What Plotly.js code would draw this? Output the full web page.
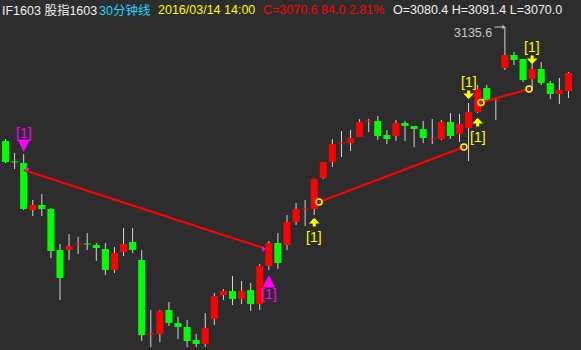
<!DOCTYPE html>
<html>
<head>
<meta charset="utf-8">
<script src="https://cdn.plot.ly/plotly-3.0.1.min.js"></script>
<style>
html,body{margin:0;padding:0;background:#2d2d2d;}
#chart{width:581px;height:350px;}
</style>
</head>
<body>
<div id="chart"></div>
<script>
// ---- OHLC data (30-minute bars, IF1603) ----
const openP = [
 3033.0, 3014.3, 3013.2, 2970.9, 2975.4, 2971.8, 2934.9, 2934.9, 2940.0, 2940.5,
 2939.4, 2935.8, 2916.9, 2933.1, 2942.1, 2925.9, 2859.1, 2859.3, 2880.9, 2869.2,
 2865.6, 2853.9, 2850.3, 2872.8, 2894.4, 2898.0, 2890.8, 2898.9, 2886.3, 2920.5,
 2941.2, 2939.4, 2960.1, 2971.6, 2971.8, 2999.7, 3014.1, 3031.0, 3031.2, 3036.6,
 3050.8, 3051.0, 3038.4, 3037.5, 3049.2, 3046.5, 3043.8, 3034.6, 3034.8, 3050.1,
 3039.3, 3044.7, 3059.1, 3080.7, 3069.8, 3098.7, 3110.4, 3106.8, 3088.8, 3097.8,
 3085.2, 3075.3, 3078.0];
const highP = [
 3034.8, 3022.2, 3021.3, 2979.9, 2985.3, 2972.7, 2940.3, 2949.3, 2946.6, 2950.2,
 2941.2, 2941.2, 2937.6, 2954.7, 2954.7, 2934.9, 2880.9, 2880.9, 2888.1, 2874.6,
 2871.9, 2859.3, 2878.2, 2896.2, 2899.8, 2911.5, 2907.0, 2905.2, 2922.3, 2943.0,
 2950.2, 2966.4, 2977.2, 2979.9, 2999.0, 3014.1, 3034.8, 3042.0, 3042.9, 3052.8,
 3052.8, 3055.5, 3042.9, 3051.9, 3051.0, 3046.5, 3051.0, 3052.8, 3051.9, 3058.2,
 3057.3, 3067.2, 3083.4, 3083.4, 3071.7, 3135.6, 3113.1, 3106.8, 3103.2, 3104.1,
 3087.0, 3089.7, 3095.1];
const lowP = [
 3013.2, 3007.8, 2970.9, 2965.5, 2965.5, 2927.7, 2889.9, 2925.9, 2931.3, 2934.9,
 2925.0, 2912.4, 2914.2, 2929.5, 2932.2, 2853.0, 2847.6, 2852.1, 2866.5, 2854.8,
 2847.6, 2847.6, 2847.6, 2867.4, 2889.9, 2885.4, 2886.3, 2880.0, 2880.9, 2916.9,
 2917.8, 2934.9, 2957.4, 2956.5, 2966.4, 2998.8, 3009.6, 3018.6, 3024.0, 3036.6,
 3041.1, 3033.9, 3030.3, 3033.0, 3033.0, 3027.6, 3031.2, 3030.3, 3033.9, 3034.8,
 3032.1, 3015.0, 3058.2, 3069.0, 3051.9, 3096.9, 3101.4, 3086.1, 3078.9, 3083.4,
 3070.8, 3066.3, 3071.7];
const closeP = [
 3014.1, 3014.1, 2971.8, 2975.4, 2971.8, 2934.0, 2909.7, 2938.5, 2940.3, 2940.1,
 2936.7, 2916.9, 2932.2, 2940.3, 2934.9, 2858.4, 2859.4, 2880.0, 2869.2, 2865.6,
 2853.0, 2850.3, 2864.7, 2893.5, 2898.0, 2890.8, 2898.0, 2886.3, 2920.5, 2941.2,
 2923.2, 2960.1, 2971.8, 2971.9, 2998.8, 3014.1, 3030.3, 3031.2, 3035.7, 3050.1,
 3051.0, 3037.5, 3034.8, 3049.2, 3046.5, 3043.8, 3035.7, 3034.8, 3050.1, 3037.5,
 3048.3, 3059.1, 3079.8, 3069.9, 3070.0, 3110.4, 3105.9, 3087.9, 3097.8, 3085.2,
 3075.3, 3078.9, 3094.2];

// ---- signal lines and markers ----
const lineA_x = [2, 28.4],        lineA_y = [3006.9, 2936.7];
const lineB_x = [34.53, 50.49],   lineB_y = [2978.1, 3027.6];
const lineC_x = [52.37, 57.66],   lineC_y = [3067.7, 3079.8];
const circle_x = [34.53, 50.49, 52.37, 57.66];
const circle_y = [2978.1, 3027.6, 3067.7, 3079.8];
const pointer_x = [2.4, 28.4];
const pointer_y = [3007.8, 2935.8];
const magDown_x = [2],  magDown_y = [3023.1];
const magUp_x = [29],   magUp_y = [2912.4];
const yelUp_x = [34, 52],   yelUp_y = [2963.7, 3053.7];
const yelDown_x = [51, 58], yelDown_y = [3070.8, 3102.3];
const signalLabel = "[1]";
const maxIdx = 55, maxLabel = "3135.6";

// header
const hdrName = "IF1603 股指1603";
const hdrPeriod = "30分钟线";
const hdrTime = "2016/03/14 14:00";
const hdrClose = "C=3070.6 84.0 2.81%";
const hdrOHL = "O=3080.4 H=3091.4 L=3070.0";

// ---- build traces ----
const n = openP.length;
const xs = openP.map((_, i) => i);
const minBody = 0.9;
const upX = [], upBase = [], upH = [], dnX = [], dnBase = [], dnH = [];
for (let i = 0; i < n; i++) {
  const o = openP[i], c = closeP[i];
  let lo = Math.min(o, c), h = Math.abs(c - o);
  if (h < minBody) { lo = lo - (minBody - h) / 2; h = minBody; }
  if (c >= o) { upX.push(i); upBase.push(lo); upH.push(h); }
  else { dnX.push(i); dnBase.push(lo); dnH.push(h); }
}
const RED = '#ff0000', GREEN = '#00ff00', MAG = '#ff00ff', YEL = '#ffff00';

const traces = [
  { type: 'bar', x: xs, base: lowP, y: highP.map((h, i) => h - lowP[i]), width: 0.11,
    marker: { color: '#d4d4d4', line: { width: 0 } }, hoverinfo: 'skip' },
  { type: 'bar', x: upX, base: upBase, y: upH, width: 0.78,
    marker: { color: RED, line: { width: 0 } }, hoverinfo: 'skip' },
  { type: 'bar', x: dnX, base: dnBase, y: dnH, width: 0.78,
    marker: { color: GREEN, line: { width: 0 } }, hoverinfo: 'skip' },
  { type: 'scatter', mode: 'lines', x: lineA_x, y: lineA_y, line: { color: RED, width: 2 }, hoverinfo: 'skip' },
  { type: 'scatter', mode: 'lines', x: lineB_x, y: lineB_y, line: { color: RED, width: 2 }, hoverinfo: 'skip' },
  { type: 'scatter', mode: 'lines', x: lineC_x, y: lineC_y, line: { color: RED, width: 2 }, hoverinfo: 'skip' },
  { type: 'scatter', mode: 'markers', x: circle_x, y: circle_y,
    marker: { symbol: 'circle-open', size: 6, color: YEL, line: { width: 1.5, color: YEL } }, hoverinfo: 'skip' },
  { type: 'scatter', mode: 'markers', x: pointer_x, y: pointer_y,
    marker: { symbol: 'triangle-right', size: 5, color: MAG }, hoverinfo: 'skip' }
];

const font = "Liberation Sans, Arial, Noto Sans CJK SC, sans-serif";
const ann = [];
function sig(xv, yv, color, up, len, head, aw, asz, gap) {
  // arrow only
  ann.push({ x: xv, y: yv, xref: 'x', yref: 'y', text: '', showarrow: true,
    arrowhead: head, arrowsize: asz, arrowwidth: aw, arrowcolor: color, standoff: 0,
    ax: 0, ay: up ? len : -len });
  // label
  ann.push({ x: xv, y: yv, xref: 'x', yref: 'y', text: signalLabel, showarrow: false,
    xanchor: 'center', yanchor: 'middle', yshift: up ? -gap : gap,
    font: { family: font, size: 14, color: color } });
}
magDown_x.forEach((v, i) => sig(v, magDown_y[i], MAG, false, 13, 2, 2.5, 1.0, 19));
magUp_x.forEach((v, i) => sig(v, magUp_y[i], MAG, true, 13, 2, 2.5, 1.0, 19));
yelDown_x.forEach((v, i) => sig(v, yelDown_y[i], YEL, false, 10, 1, 3, 0.6, 17.5));
yelUp_x.forEach((v, i) => sig(v, yelUp_y[i], YEL, true, 10, 1, 3, 0.6, 18.5));

// max label
ann.push({ x: maxIdx, y: highP[maxIdx], xref: 'x', yref: 'y', text: '', showarrow: true,
  arrowhead: 1, arrowsize: 0.8, arrowwidth: 1, arrowcolor: '#c8c8c8', standoff: 0, ax: -12, ay: 0 });
ann.push({ x: maxIdx, y: highP[maxIdx], xref: 'x', yref: 'y', text: maxLabel, showarrow: false,
  xanchor: 'right', yanchor: 'middle', xshift: -11, yshift: -6,
  font: { family: font, size: 12.5, color: '#c8c8c8' } });

// header
function hdr(px, txt, color) {
  ann.push({ x: px / 581, y: 1 - 10 / 350, xref: 'paper', yref: 'paper', text: txt,
    showarrow: false, xanchor: 'left', yanchor: 'middle',
    font: { family: font, size: 12.5, color: color } });
}
hdr(0, hdrName, '#f0f0f0');
hdr(97, hdrPeriod, '#20d8ff');
hdr(156, hdrTime, YEL);
hdr(261, hdrClose, RED);
hdr(391, hdrOHL, '#f0f0f0');

const r0 = -5.5 / 9.08;
const layout = {
  width: 581, height: 350,
  margin: { l: 0, r: 0, t: 0, b: 0, pad: 0 },
  paper_bgcolor: '#2d2d2d', plot_bgcolor: '#2d2d2d',
  barmode: 'overlay', showlegend: false,
  xaxis: { range: [r0, r0 + 581 / 9.08], visible: false, fixedrange: true },
  yaxis: { range: [2844.9, 3159.9], visible: false, fixedrange: true },
  annotations: ann
};
Plotly.newPlot('chart', traces, layout, { staticPlot: true, displayModeBar: false });
</script>
</body>
</html>
